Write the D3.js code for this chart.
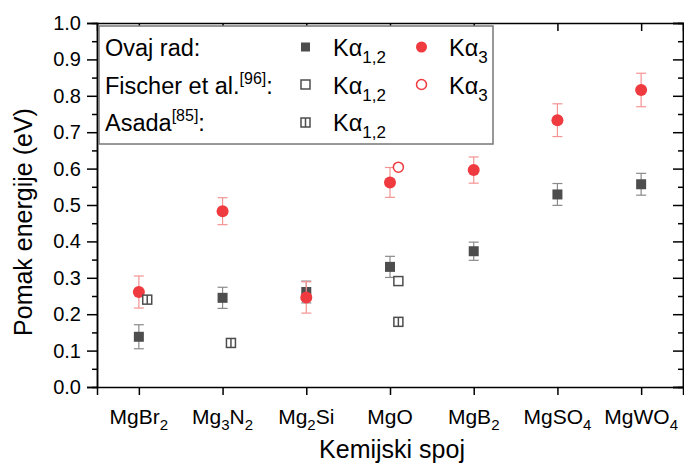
<!DOCTYPE html>
<html>
<head>
<meta charset="utf-8">
<script src="https://cdn.jsdelivr.net/npm/d3@7"></script>
<style>
  html, body { margin: 0; padding: 0; background: #fff; }
  svg { display: block; font-family: "Liberation Sans", Arial, sans-serif; }
</style>
</head>
<body>
<svg id="chart" width="684" height="464"></svg>
<script>
// Compounds on the x axis (digits are drawn as subscripts)
const categories = ["MgBr2", "Mg3N2", "Mg2Si", "MgO", "MgB2", "MgSO4", "MgWO4"];

// This work: Kα1,2 and Kα3 energy shifts (eV) with uncertainties
const ka12 = [0.138, 0.245, 0.261, 0.330, 0.373, 0.529, 0.557];
const ka12Err = [0.033, 0.029, 0.030, 0.029, 0.025, 0.030, 0.030];
const ka3 = [0.261, 0.483, 0.246, 0.562, 0.596, 0.733, 0.816];
const ka3Err = [0.044, 0.037, 0.043, 0.041, 0.036, 0.045, 0.046];

// Literature values
const fischerKa12 = [{ cat: "MgO", value: 0.291 }];
const fischerKa3 = [{ cat: "MgO", value: 0.604 }];
const asadaKa12 = [
  { cat: "MgBr2", value: 0.240 },
  { cat: "Mg3N2", value: 0.121 },
  { cat: "MgO", value: 0.179 }
];

const yTicks = [0, 0.1, 0.2, 0.3, 0.4, 0.5, 0.6, 0.7, 0.8, 0.9, 1.0];
const yMinorTicks = [0.05, 0.15, 0.25, 0.35, 0.45, 0.55, 0.65, 0.75, 0.85, 0.95];

const svg = d3.select("#chart");
const plotLeft = 97, plotRight = 683, plotTop = 23, plotBottom = 387;

const x = d3.scaleLinear().domain([0.5, categories.length + 0.5]).range([plotLeft, plotRight]);
const y = d3.scaleLinear().domain([0, 1]).range([plotBottom, plotTop]);
const refShift = 0.1; // literature points are drawn slightly to the right

const RED = "#ef3a3f", RED_ERR = "#f59393", DARK = "#4d4d4d", GRAY_ERR = "#8a8a8a";

// Helper: write chemical formula with subscript digits into a text element
function formula(textSel, str, subSize, subShift) {
  const parts = str.match(/[A-Za-z]+|\d+/g);
  let lowered = false;
  parts.forEach(p => {
    if (/\d/.test(p)) {
      textSel.append("tspan").attr("font-size", subSize).attr("dy", subShift).text(p);
      lowered = true;
    } else {
      const t = textSel.append("tspan").text(p);
      if (lowered) { t.attr("dy", -subShift); lowered = false; }
    }
  });
}

// Axes
const axisG = svg.append("g");
const styleAxis = g => {
  g.select(".domain").attr("stroke", "#000").attr("stroke-width", 1.5);
  g.selectAll(".tick line").attr("stroke", "#000").attr("stroke-width", 1.5);
};

// left (outward ticks, labelled)
axisG.append("g").attr("transform", `translate(${plotLeft},0)`)
  .call(d3.axisLeft(y).tickValues(yTicks).tickSize(10).tickPadding(6).tickFormat(d3.format(".1f")))
  .call(styleAxis)
  .call(g => g.selectAll("text").attr("font-size", 20).attr("fill", "#000")
    .attr("font-family", "Liberation Sans, Arial, sans-serif"));
axisG.append("g").attr("transform", `translate(${plotLeft},0)`)
  .call(d3.axisLeft(y).tickValues(yMinorTicks).tickSize(5).tickFormat(""))
  .call(styleAxis);

// right (inward ticks)
axisG.append("g").attr("transform", `translate(${plotRight},0)`)
  .call(d3.axisLeft(y).tickValues(yTicks).tickSize(10).tickFormat(""))
  .call(styleAxis);
axisG.append("g").attr("transform", `translate(${plotRight},0)`)
  .call(d3.axisLeft(y).tickValues(yMinorTicks).tickSize(5).tickFormat(""))
  .call(styleAxis);

const catIdx = categories.map((c, i) => i + 1);
// bottom (outward ticks)
axisG.append("g").attr("transform", `translate(0,${plotBottom})`)
  .call(d3.axisBottom(x).tickValues(catIdx).tickSize(8).tickFormat(""))
  .call(styleAxis);
// top (inward ticks)
axisG.append("g").attr("transform", `translate(0,${plotTop})`)
  .call(d3.axisBottom(x).tickValues(catIdx).tickSize(8).tickFormat(""))
  .call(styleAxis);

// category labels
categories.forEach((c, i) => {
  const t = svg.append("text")
    .attr("x", x(i + 1)).attr("y", 424)
    .attr("text-anchor", "middle").attr("font-size", 21).attr("fill", "#000");
  formula(t, c, 15, 6);
});

// axis titles
svg.append("text").attr("x", (plotLeft + plotRight) / 2 + 2).attr("y", 458)
  .attr("text-anchor", "middle").attr("font-size", 25).text("Kemijski spoj");
svg.append("text").attr("transform", `translate(32,222) rotate(-90)`)
  .attr("text-anchor", "middle").attr("font-size", 25).text("Pomak energije (eV)");

// Error bars
function errorBars(vals, errs, color) {
  const g = svg.append("g").attr("stroke", color).attr("stroke-width", 1.2).attr("fill", "none");
  vals.forEach((v, i) => {
    const cx = x(i + 1), y0 = y(v - errs[i]), y1 = y(v + errs[i]);
    g.append("line").attr("x1", cx).attr("x2", cx).attr("y1", y0).attr("y2", y1);
    g.append("line").attr("x1", cx - 5).attr("x2", cx + 5).attr("y1", y0).attr("y2", y0);
    g.append("line").attr("x1", cx - 5).attr("x2", cx + 5).attr("y1", y1).attr("y2", y1);
  });
}

// Kα1,2 (this work)
errorBars(ka12, ka12Err, GRAY_ERR);
svg.append("g").selectAll("rect").data(ka12).join("rect")
  .attr("x", (d, i) => x(i + 1) - 5).attr("y", d => y(d) - 5)
  .attr("width", 10).attr("height", 10).attr("fill", DARK);

// Kα3 (this work)
errorBars(ka3, ka3Err, RED_ERR);
svg.append("g").selectAll("circle").data(ka3).join("circle")
  .attr("cx", (d, i) => x(i + 1)).attr("cy", d => y(d)).attr("r", 6).attr("fill", RED);

// Marker drawers
function openSquare(g, cx, cy) {
  g.append("rect").attr("x", cx - 4.5).attr("y", cy - 4.5).attr("width", 9).attr("height", 9)
    .attr("fill", "#fff").attr("stroke", DARK).attr("stroke-width", 1.5);
}
function splitSquare(g, cx, cy) {
  openSquare(g, cx, cy);
  g.append("line").attr("x1", cx).attr("x2", cx).attr("y1", cy - 4.5).attr("y2", cy + 4.5)
    .attr("stroke", DARK).attr("stroke-width", 1.5);
}
function openCircle(g, cx, cy) {
  g.append("circle").attr("cx", cx).attr("cy", cy).attr("r", 5)
    .attr("fill", "#fff").attr("stroke", RED).attr("stroke-width", 1.5);
}

// Literature points
const refG = svg.append("g");
fischerKa12.forEach(d => openSquare(refG, x(categories.indexOf(d.cat) + 1 + refShift), y(d.value)));
fischerKa3.forEach(d => openCircle(refG, x(categories.indexOf(d.cat) + 1 + refShift), y(d.value)));
asadaKa12.forEach(d => splitSquare(refG, x(categories.indexOf(d.cat) + 1 + refShift), y(d.value)));

// Legend
const lg = svg.append("g");
lg.append("rect").attr("x", 99).attr("y", 26).attr("width", 394).attr("height", 118)
  .attr("fill", "#fff").attr("stroke", "#777").attr("stroke-width", 1.5);

const rows = [56, 94, 131];
const FS = 23.5;
function addLabel(xp, yp, main, sup) {
  const t = lg.append("text").attr("x", xp).attr("y", yp).attr("font-size", FS).attr("fill", "#000");
  t.append("tspan").text(main);
  if (sup) {
    t.append("tspan").attr("font-size", 16).attr("dy", -10).text(sup);
    t.append("tspan").attr("dy", 10).text(":");
  } else {
    t.append("tspan").text(":");
  }
}
function addKa(xp, yp, sub) {
  const t = lg.append("text").attr("x", xp).attr("y", yp).attr("font-size", FS).attr("fill", "#000");
  t.append("tspan").text("K\u03b1");
  t.append("tspan").attr("font-size", 17).attr("dy", 7).text(sub);
}
addLabel(105, rows[0], "Ovaj rad");
addLabel(105, rows[1], "Fischer et al.", "[96]");
addLabel(105, rows[2], "Asada", "[85]");

lg.append("rect").attr("x", 301).attr("y", rows[0] - 13.5).attr("width", 9).attr("height", 9).attr("fill", DARK);
openSquare(lg, 305.5, rows[1] - 9.5);
splitSquare(lg, 305.5, rows[2] - 8.5);
lg.append("circle").attr("cx", 421.5).attr("cy", rows[0] - 9).attr("r", 5.5).attr("fill", RED);
openCircle(lg, 421.5, rows[1] - 9.5);

addKa(333, rows[0], "1,2");
addKa(333, rows[1], "1,2");
addKa(333, rows[2], "1,2");
addKa(449, rows[0], "3");
addKa(449, rows[1], "3");
</script>
</body>
</html>
